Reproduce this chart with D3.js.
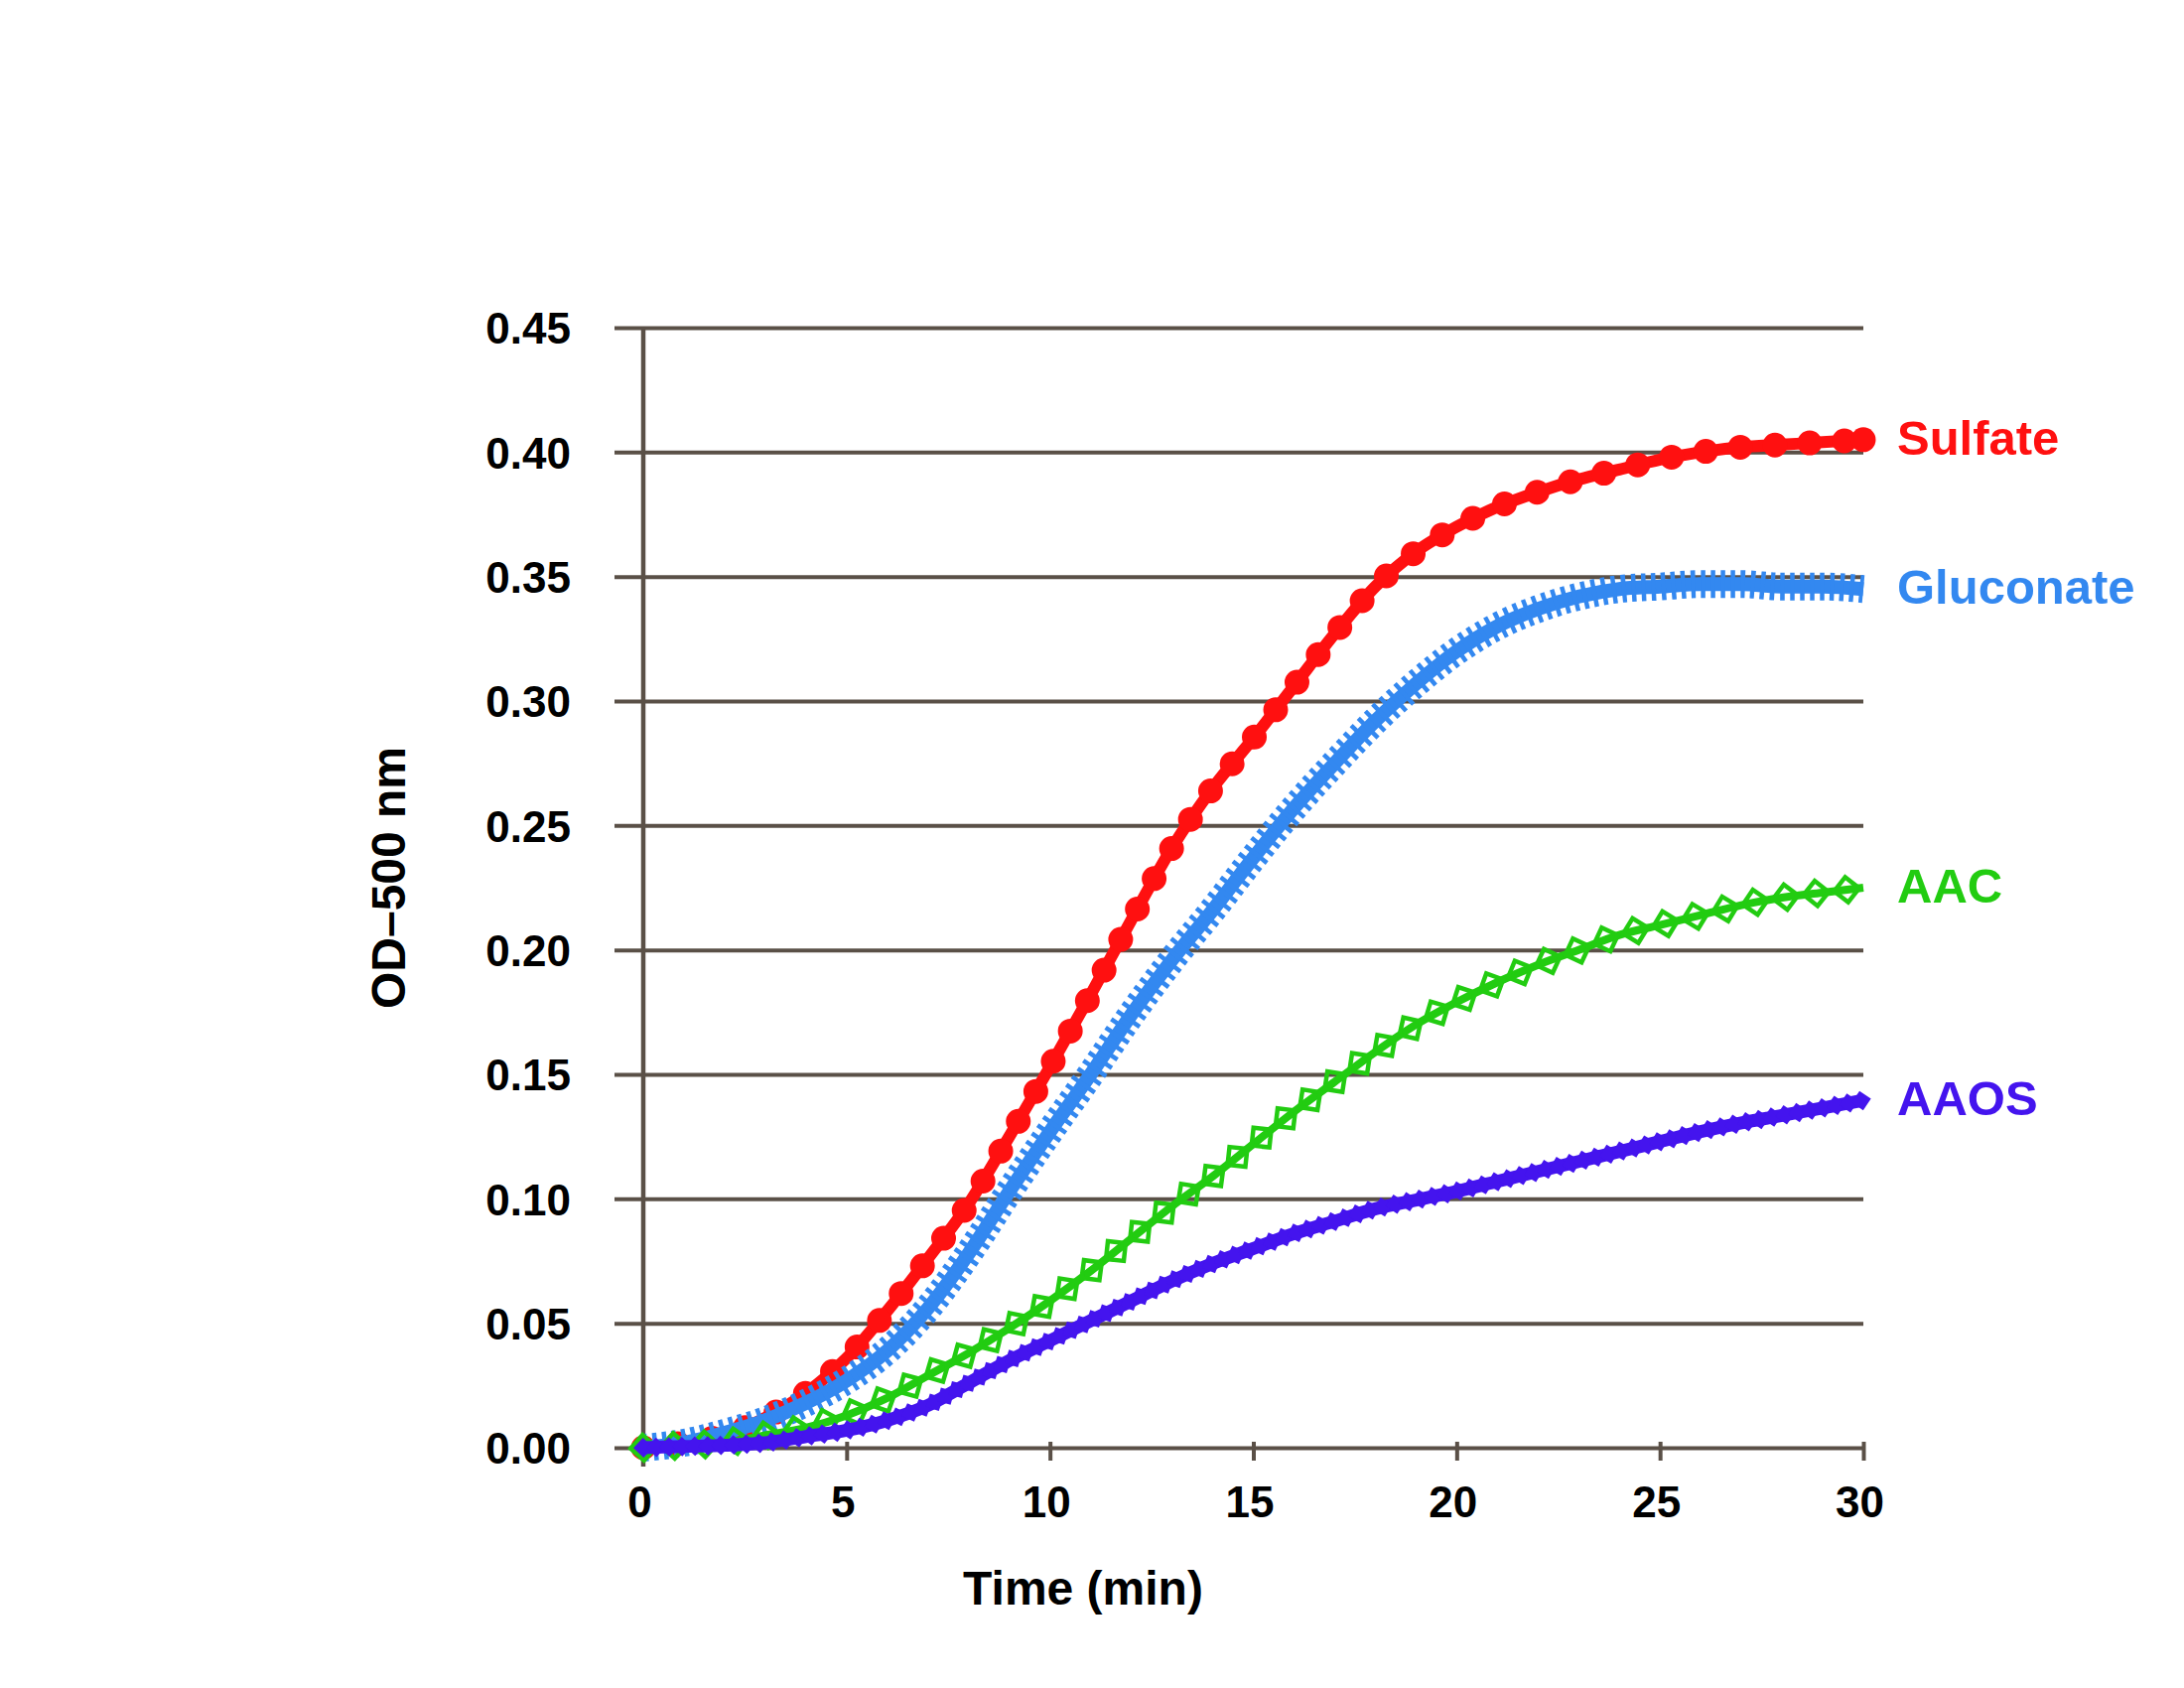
<!DOCTYPE html>
<html>
<head>
<meta charset="utf-8">
<script src="https://cdn.jsdelivr.net/npm/d3@7"></script>
<style>
	body { margin: 0; background: #fff; }
	svg text { font-family: "Liberation Sans", Arial, Helvetica, sans-serif; font-weight: bold; }
</style>
</head>
<body>
<svg id="chart" width="2200" height="1700"></svg>
<script>

// Time points (min)
var minutes = [ 0, 1, 2, 3, 4, 5, 6, 7, 8, 9, 10, 11, 12, 13, 14, 15, 16, 17, 18, 19, 20, 21, 22, 23, 24, 25, 26, 27, 28, 29, 30 ];

// OD-500 nm readings
var sulfate = [ 0, 0.002, 0.005, 0.012, 0.022, 0.036, 0.055, 0.076, 0.098, 0.125, 0.153, 0.182, 0.212, 0.241, 0.265, 0.285, 0.306, 0.327, 0.346, 0.360, 0.370, 0.378, 0.384, 0.389, 0.393, 0.397, 0.400, 0.402, 0.403, 0.404, 0.405 ];
var gluconate = [ 0, 0.002, 0.006, 0.011, 0.018, 0.027, 0.039, 0.056, 0.078, 0.103, 0.127, 0.150, 0.174, 0.196, 0.216, 0.237, 0.257, 0.275, 0.292, 0.307, 0.320, 0.330, 0.337, 0.342, 0.345, 0.346, 0.347, 0.347, 0.346, 0.346, 0.345 ];
var aac = [ 0, 0.001, 0.002, 0.005, 0.008, 0.013, 0.020, 0.029, 0.038, 0.048, 0.059, 0.071, 0.084, 0.097, 0.109, 0.122, 0.135, 0.147, 0.159, 0.170, 0.179, 0.187, 0.194, 0.200, 0.206, 0.210, 0.214, 0.218, 0.221, 0.223, 0.225 ];
var aaos = [ 0, 0.0005, 0.001, 0.002, 0.0045, 0.007, 0.011, 0.017, 0.026, 0.035, 0.043, 0.051, 0.059, 0.067, 0.074, 0.080, 0.086, 0.091, 0.096, 0.0995, 0.103, 0.107, 0.111, 0.115, 0.119, 0.123, 0.127, 0.1305, 0.1335, 0.1365, 0.1396 ];

var seriesNames = [ 'Sulfate', 'Gluconate', 'AAC', 'AAOS' ];
var xTicks = [ 0, 5, 10, 15, 20, 25, 30 ];
var yTicks = [ 0, 0.05, 0.10, 0.15, 0.20, 0.25, 0.30, 0.35, 0.40, 0.45 ];

var axisColor = '#5a5047';

var plot = {
	left: 648,
	right: 1877,
	top: 330,
	bottom: 1458,
	gridStart: 619
};

var svg = d3.select( '#chart' );

var x = d3.scaleLinear().domain( [ 0, 30 ] ).range( [ plot.left, plot.right ] );
var y = d3.scaleLinear().domain( [ 0, 0.45 ] ).range( [ plot.bottom, plot.top ] );

// Horizontal gridlines + y labels
var yAxis = svg.append( 'g' )
	.attr( 'transform', 'translate(' + plot.gridStart + ',0)' )
	.call( d3.axisLeft( y )
		.tickValues( yTicks )
		.tickSize( -( plot.right - plot.gridStart ) )
		.tickPadding( 44 )
		.tickFormat( d3.format( '.2f' ) ) );
yAxis.select( '.domain' ).remove();
yAxis.selectAll( 'line' ).attr( 'stroke', axisColor ).attr( 'stroke-width', 4 );
yAxis.selectAll( 'text' ).attr( 'font-size', 44 ).attr( 'fill', '#000' ).attr( 'dy', '0.36em' );

// x ticks + labels
var xAxis = svg.append( 'g' )
	.attr( 'transform', 'translate(0,' + plot.bottom + ')' )
	.call( d3.axisBottom( x )
		.tickValues( xTicks )
		.tickSize( 13 )
		.tickPadding( 26 ) );
xAxis.select( '.domain' ).remove();
xAxis.selectAll( 'line' ).attr( 'y1', -6 ).attr( 'stroke', axisColor ).attr( 'stroke-width', 4 );
xAxis.selectAll( 'text' ).attr( 'font-size', 44 ).attr( 'fill', '#000' ).attr( 'dx', -4 );

// vertical axis line
svg.append( 'line' )
	.attr( 'x1', plot.left ).attr( 'x2', plot.left )
	.attr( 'y1', plot.top ).attr( 'y2', plot.bottom + 19 )
	.attr( 'stroke', axisColor ).attr( 'stroke-width', 4.5 );

// axis titles
svg.append( 'text' )
	.attr( 'x', 1091 ).attr( 'y', 1616 )
	.attr( 'text-anchor', 'middle' )
	.attr( 'font-size', 48 )
	.text( 'Time (min)' );

svg.append( 'text' )
	.attr( 'transform', 'translate(408,884) rotate(-90)' )
	.attr( 'text-anchor', 'middle' )
	.attr( 'font-size', 48 )
	.text( 'OD\u2013500 nm' );

var lineGenerator = d3.line()
	.x( function ( d ) { return x( d[0] ); } )
	.y( function ( d ) { return y( d[1] ); } )
	.curve( d3.curveMonotoneX );

function pairs( values ) {
	return minutes.map( function ( t, i ) { return [ t, values[i] ]; } );
}

// place glyphs along a drawn path at a fixed spacing
function alongPath( pathNode, spacing ) {
	var total = pathNode.getTotalLength();
	var out = [];
	for ( var l = 0; l <= total; l += spacing ) {
		var p = pathNode.getPointAtLength( l );
		var q = pathNode.getPointAtLength( Math.min( total, l + 1 ) );
		var r = pathNode.getPointAtLength( Math.max( 0, l - 1 ) );
		out.push( { x: p.x, y: p.y, angle: Math.atan2( q.y - r.y, q.x - r.x ) * 180 / Math.PI } );
	}
	return out;
}

var series = [
	{ name: seriesNames[0], values: sulfate, color: '#ff1010', style: 'dots' },
	{ name: seriesNames[1], values: gluconate, color: '#3388f0', style: 'hatch' },
	{ name: seriesNames[2], values: aac, color: '#22cc11', style: 'diamonds' },
	{ name: seriesNames[3], values: aaos, color: '#4414ee', style: 'serrated' }
];

series.forEach( function ( s ) {
	var g = svg.append( 'g' ).attr( 'class', 'series' );
	var d = lineGenerator( pairs( s.values ) );

	if ( s.style === 'dots' ) {
		g.append( 'path' ).attr( 'd', d ).attr( 'fill', 'none' )
			.attr( 'stroke', s.color ).attr( 'stroke-width', 12 ).attr( 'stroke-linejoin', 'round' );
		g.append( 'path' ).attr( 'd', d ).attr( 'fill', 'none' )
			.attr( 'stroke', s.color ).attr( 'stroke-width', 25 )
			.attr( 'stroke-linecap', 'round' ).attr( 'stroke-dasharray', '0 35' );
		g.append( 'circle' )
			.attr( 'cx', x( minutes[minutes.length - 1] ) )
			.attr( 'cy', y( s.values[s.values.length - 1] ) )
			.attr( 'r', 12.5 ).attr( 'fill', s.color );
	} else if ( s.style === 'hatch' ) {
		g.append( 'path' ).attr( 'd', d ).attr( 'fill', 'none' )
			.attr( 'stroke', s.color ).attr( 'stroke-width', 14 );
		g.append( 'path' ).attr( 'd', d ).attr( 'fill', 'none' )
			.attr( 'stroke', s.color ).attr( 'stroke-width', 28 )
			.attr( 'stroke-dasharray', '4.5 5.5' );
	} else if ( s.style === 'diamonds' ) {
		var gp = g.append( 'path' ).attr( 'd', d ).attr( 'fill', 'none' )
			.attr( 'stroke', s.color ).attr( 'stroke-width', 8 );
		g.selectAll( 'rect' )
			.data( alongPath( gp.node(), 31 ) )
			.enter()
			.append( 'rect' )
			.attr( 'x', -9 ).attr( 'y', -9 ).attr( 'width', 18 ).attr( 'height', 18 )
			.attr( 'transform', function ( p ) {
				return 'translate(' + p.x + ',' + p.y + ') rotate(' + ( p.angle + 45 ) + ')';
			} )
			.attr( 'fill', 'none' ).attr( 'stroke', s.color ).attr( 'stroke-width', 4.5 );
	} else {
		var pp = g.append( 'path' ).attr( 'd', d ).attr( 'fill', 'none' )
			.attr( 'stroke', s.color ).attr( 'stroke-width', 13 ).attr( 'stroke-linejoin', 'round' );
		g.selectAll( 'rect' )
			.data( alongPath( pp.node(), 13 ) )
			.enter()
			.append( 'rect' )
			.attr( 'x', -7 ).attr( 'y', -7 ).attr( 'width', 14 ).attr( 'height', 14 )
			.attr( 'transform', function ( p ) {
				return 'translate(' + p.x + ',' + p.y + ') rotate(' + ( p.angle + 45 ) + ')';
			} )
			.attr( 'fill', s.color );
	}

	// end label
	svg.append( 'text' )
		.attr( 'x', 1911 )
		.attr( 'y', y( s.values[s.values.length - 1] ) )
		.attr( 'dy', '0.3em' )
		.attr( 'font-size', 49 )
		.attr( 'fill', s.color )
		.text( s.name );
} );

</script>
</body>
</html>
